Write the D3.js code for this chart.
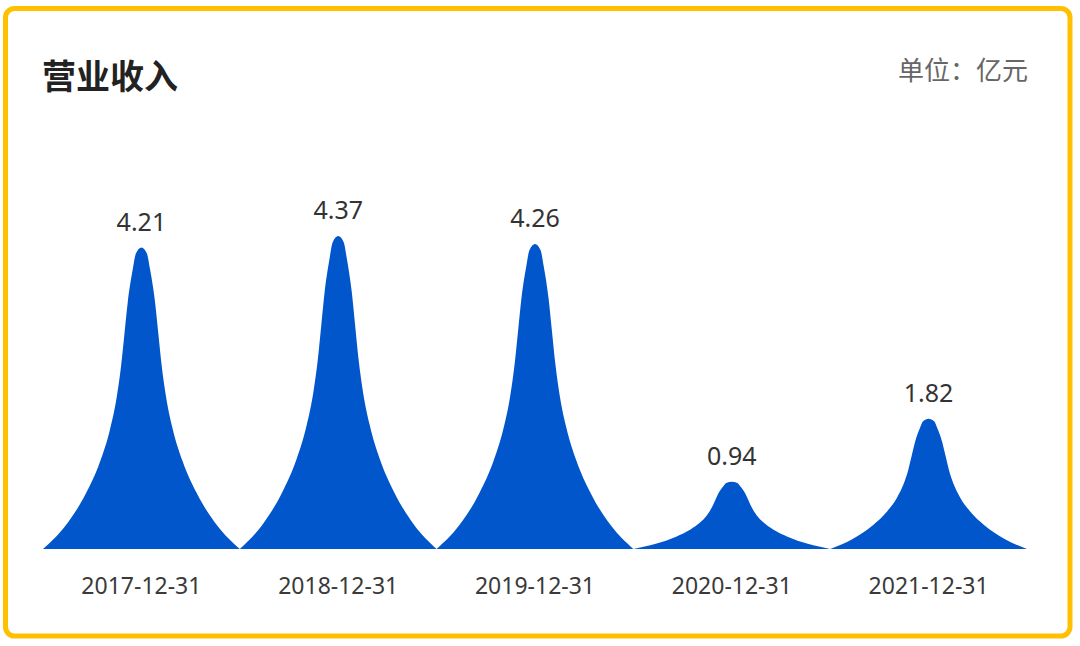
<!DOCTYPE html>
<html>
<head>
<meta charset="utf-8">
<script src="https://cdn.jsdelivr.net/npm/d3@7"></script>
<style>
  html, body { margin: 0; padding: 0; background: #fff; }
  svg { display: block; }
</style>
</head>
<body>
<div id="chart"></div>
<script>
// data
const dates = ['2017-12-31', '2018-12-31', '2019-12-31', '2020-12-31', '2021-12-31'];
const revenue = [4.21, 4.37, 4.26, 0.94, 1.82];
const title = '营业收入';
const unitLabel = '单位：亿元';

// constants
const FRAME_WIDTH = 1080;
const FRAME_HEIGHT = 646;
const MARGINS = {left: 43, right: 53, top: 191, bottom: 97};
const BASE_Y = FRAME_HEIGHT - MARGINS.bottom;
const FILL = '#0256cc';
const NUM_FONT = '"Noto Sans", "Open Sans", sans-serif';
const CJK_FONT = '"Noto Sans CJK SC", sans-serif';

// outline of one peak: u across the band (0..1), v up to the value (0..1)
const PEAK_OUTLINE = [
  [0, 0], [0.114, 0.077], [0.217, 0.183], [0.29, 0.29], [0.34, 0.396],
  [0.374, 0.502], [0.397, 0.609], [0.414, 0.715], [0.431, 0.821],
  [0.456, 0.928], [0.472, 0.98], [0.5, 1]
];

let svg = d3.select('#chart')
            .append('svg')
            .attr('width', FRAME_WIDTH)
            .attr('height', FRAME_HEIGHT);

// yellow rounded frame
svg.append('rect')
   .attr('x', 5.5)
   .attr('y', 8.5)
   .attr('width', 1064.5)
   .attr('height', 627.5)
   .attr('rx', 9)
   .attr('fill', '#fff')
   .attr('stroke', '#ffc000')
   .attr('stroke-width', 5);

// header texts
svg.append('text')
   .attr('x', 42)
   .attr('y', 89)
   .text(title)
   .attr('font-family', CJK_FONT)
   .attr('font-size', '34px')
   .attr('font-weight', 'bold')
   .attr('fill', '#222');

svg.append('text')
   .attr('x', 1028)
   .attr('y', 80)
   .attr('text-anchor', 'end')
   .text(unitLabel)
   .attr('font-family', CJK_FONT)
   .attr('font-size', '26px')
   .attr('fill', '#666');

// scales
let xScale = d3.scaleBand()
               .domain(dates)
               .range([MARGINS.left, FRAME_WIDTH - MARGINS.right])
               .padding(0);

let yScale = d3.scaleLinear()
               .domain([0, 5])
               .range([BASE_Y, MARGINS.top]);

// x axis (labels only)
let xAxis = svg.append('g')
               .attr('transform', 'translate(0,' + BASE_Y + ')')
               .call(d3.axisBottom(xScale).tickSize(0).tickPadding(29));
xAxis.select('.domain').remove();
xAxis.selectAll('text')
     .attr('font-family', NUM_FONT)
     .attr('font-size', '23px')
     .attr('fill', '#3a3a3a');

// peak path built from band scale + linear scale
function peakPath(date, value) {
  const x0 = xScale(date);
  const w = xScale.bandwidth();
  const left = PEAK_OUTLINE.map(p => [x0 + p[0] * w, yScale(p[1] * value)]);
  const right = PEAK_OUTLINE.slice(0, -1).reverse()
                  .map(p => [x0 + (1 - p[0]) * w, yScale(p[1] * value)]);
  return d3.line().curve(d3.curveMonotoneX)(left.concat(right)) + 'Z';
}

const rows = dates.map((d, i) => ({date: d, value: revenue[i]}));

svg.selectAll('path.peak')
   .data(rows)
   .enter()
   .append('path')
   .attr('class', 'peak')
   .attr('d', d => peakPath(d.date, d.value))
   .attr('fill', FILL);

// value labels
svg.selectAll('text.value')
   .data(rows)
   .enter()
   .append('text')
   .attr('class', 'value')
   .attr('x', d => xScale(d.date) + xScale.bandwidth() / 2)
   .attr('y', d => yScale(d.value) - 17)
   .attr('text-anchor', 'middle')
   .text(d => d.value.toFixed(2))
   .attr('font-family', NUM_FONT)
   .attr('font-size', '25px')
   .attr('fill', '#333');
</script>
</body>
</html>
